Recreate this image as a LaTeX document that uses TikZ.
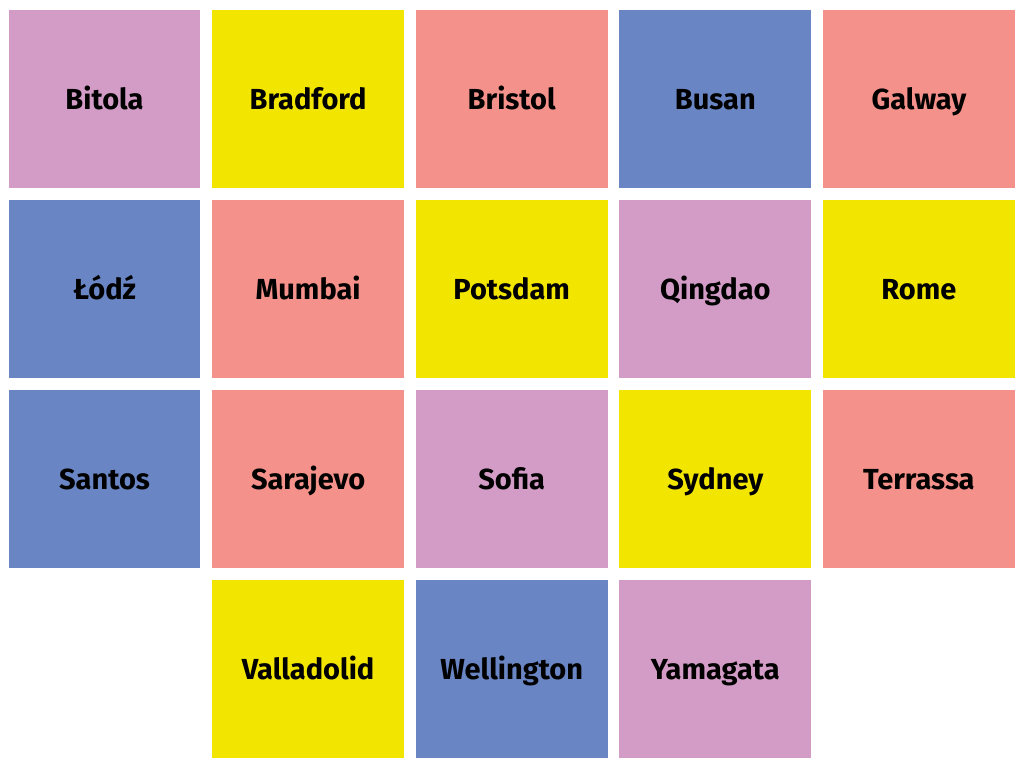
\documentclass[tikz,border=0pt]{standalone}
\usepackage{fontspec}
\setmainfont{Fira Sans}
\usepackage{tikz}
\definecolor{tilepink}{HTML}{D39CC6}
\definecolor{tileyellow}{HTML}{F2E600}
\definecolor{tilesalmon}{HTML}{F4918A}
\definecolor{tileblue}{HTML}{6985C4}
\begin{document}
\begin{tikzpicture}[x=1pt,y=-1pt,
  tile/.style={rectangle,inner sep=0pt,outer sep=0pt,minimum width=191.7pt,minimum height=177.7pt,
    text height=22pt,text depth=0pt,font=\fontsize{29}{33}\selectfont\bfseries,text=black}]
      \useasboundingbox[fill=white] (0,0) rectangle (1024,765);
      % first row
      \node[tile,fill=tilepink](bitola) at (104.5,98.9){Bitola};
      \node[tile,fill=tileyellow](bradford) at (308.1,98.9){Bradford};
      \node[tile,fill=tilesalmon](bristol) at (511.7,98.9){Bristol};
      \node[tile,fill=tileblue](busan) at (715.3,98.9){Busan};
      \node[tile,fill=tilesalmon](galway) at (918.9,98.9){Galway};
      % second row
      \node[tile,fill=tileblue](lodz) at (104.5,288.9){Łódź};
      \node[tile,fill=tilesalmon](mumbai) at (308.1,288.9){Mumbai};
      \node[tile,fill=tileyellow](potsdam) at (511.7,288.9){Potsdam};
      \node[tile,fill=tilepink](qingdao) at (715.3,288.9){Qingdao};
      \node[tile,fill=tileyellow](rome) at (918.9,288.9){Rome};
      % third row
      \node[tile,fill=tileblue](santos) at (104.5,478.9){Santos};
      \node[tile,fill=tilesalmon](sarajevo) at (308.1,478.9){Sarajevo};
      \node[tile,fill=tilepink](sofia) at (511.7,478.9){Sofia};
      \node[tile,fill=tileyellow](sydney) at (715.3,478.9){Sydney};
      \node[tile,fill=tilesalmon](terrassa) at (918.9,478.9){Terrassa};
      % last row
      \node[tile,fill=tileyellow](valladolid) at (308.1,668.9){Valladolid};
      \node[tile,fill=tileblue](wellington) at (511.7,668.9){Wellington};
      \node[tile,fill=tilepink](yamagata) at (715.3,668.9){Yamagata};
    \end{tikzpicture}
\end{document}
